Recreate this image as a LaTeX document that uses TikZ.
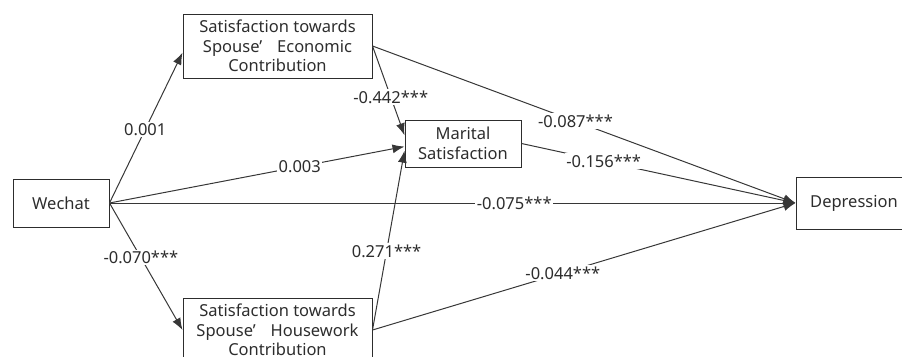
\documentclass[tikz,border=0pt]{standalone}
\usepackage{fontspec}
\setmainfont{Noto Sans}
\usetikzlibrary{arrows.meta,positioning}
\definecolor{inkgray}{RGB}{45,45,45}
\definecolor{linegray}{RGB}{55,55,55}

\begin{document}
\begin{tikzpicture}[
  x=1pt, y=-1pt,
  var/.style={
    draw=inkgray,
    line width=1pt,
    align=center,
    inner sep=0pt,
    text=inkgray,
    font=\fontsize{16.5}{19.5}\selectfont
  },
  link/.style={-{Latex[length=12pt,width=9pt]},line width=1pt,draw=linegray},
  coef/.style={fill=white,inner sep=1.5pt,text=inkgray,font=\fontsize{16.5}{19.5}\selectfont}
]
\useasboundingbox (0,0) rectangle (902,356);

\node[var,minimum width=189pt,minimum height=64pt] (econ) at (277.5,46)
  {Satisfaction towards\\Spouse’\hspace{.9em}Economic\\Contribution};
\node[var,minimum width=96pt,minimum height=48pt] (wechat) at (61,203) {Wechat};
\node[var,minimum width=116pt,minimum height=47pt] (marital) at (463,143.5)
  {Marital\\Satisfaction};
\node[var,minimum width=189pt,minimum height=64pt] (house) at (277.5,330)
  {Satisfaction towards\\Spouse’\hspace{.9em}Housework\\Contribution};
\node[var,minimum width=116pt,minimum height=52pt] (depr) at (854,203) {Depression};

% paths from Wechat
\draw[link] (wechat.east) -- node[coef,pos=.49]{0.001} (econ.184);
\draw[link] (wechat.east) -- node[coef,pos=.645]{0.003} (marital.183);
\draw[link] (wechat.east) -- node[coef,pos=.59]{-0.075***} (depr.west);
\draw[link] (wechat.east) -- node[coef,pos=.43]{-0.070***} (house.west);

% mediators
\draw[link] (econ.east) -- node[coef,pos=.57]{-0.442***} (marital.172);
\draw[link] (house.east) -- node[coef,pos=.44]{0.271***} (marital.187);
\draw[link] (econ.east) -- node[coef,pos=.48]{-0.087***} (depr.west);
\draw[link] (marital.east) -- node[coef,pos=.30]{-0.156***} (depr.west);
\draw[link] (house.east) -- node[coef,pos=.45]{-0.044***} (depr.west);
\end{tikzpicture}
\end{document}
